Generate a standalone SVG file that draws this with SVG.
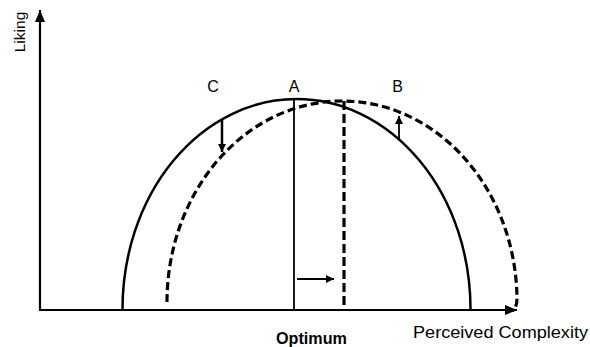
<svg xmlns="http://www.w3.org/2000/svg" width="590" height="347" viewBox="0 0 590 347">
<defs>
<style>
.axis{stroke:#000;stroke-width:2.2;fill:none}
.solid{stroke:#000;stroke-width:2.5;fill:none}
.dash{stroke:#000;stroke-width:3.2;fill:none;stroke-dasharray:8 4}
.thin{stroke:#000;stroke-width:1.8;fill:none}
.lbl{font-family:"Liberation Sans",Arial,sans-serif;font-size:16px;fill:#000}
</style>
<marker id="bigHead" markerUnits="userSpaceOnUse" markerWidth="14" markerHeight="12" refX="12" refY="5" orient="auto">
<path d="M0,0 L12,5 L0,10 Z" fill="#000"/>
</marker>
<marker id="smallHead" markerUnits="userSpaceOnUse" markerWidth="10" markerHeight="9" refX="8" refY="4" orient="auto">
<path d="M0,0 L8,4 L0,8 Z" fill="#000"/>
</marker>
</defs>
<g id="axes">
<line class="axis" x1="40" y1="311" x2="40" y2="10" marker-end="url(#bigHead)"/>
<line class="axis" x1="39" y1="310" x2="517" y2="310" marker-end="url(#bigHead)"/>
</g>
<g id="curve-A">
<path class="solid" d="M122.5,309 A174,210 0 0 1 470.5,309"/>
</g>
<g id="curve-shifted">
<path class="dash" d="M167,302 A175,201 0 0 1 342,101 A175,200 0 0 1 517,298 C517,304 516,308 512,311"/>
</g>
<g id="connectors">
<line class="thin" x1="294" y1="99" x2="294" y2="310"/>
<line class="dash" x1="344" y1="101" x2="344" y2="310" style="stroke-dasharray:9 4"/>
<line class="thin" x1="297" y1="279" x2="334" y2="279" marker-end="url(#smallHead)"/>
<line class="solid" x1="222" y1="119" x2="222" y2="152" marker-end="url(#smallHead)"/>
<line class="thin" x1="399" y1="139" x2="399" y2="116" marker-end="url(#smallHead)"/>
</g>
<g id="labels">
<text class="lbl" x="213" y="92" text-anchor="middle">C</text>
<text class="lbl" x="294" y="92" text-anchor="middle">A</text>
<text class="lbl" x="397.5" y="92" text-anchor="middle">B</text>
<text class="lbl" transform="translate(25,32) rotate(-90)" text-anchor="middle" style="font-size:15.5px">Liking</text>
<text class="lbl" x="413" y="338" textLength="175" lengthAdjust="spacingAndGlyphs">Perceived Complexity</text>
<text class="lbl" x="276" y="344" textLength="71" lengthAdjust="spacingAndGlyphs" style="font-weight:bold">Optimum</text>
</g>
</svg>
